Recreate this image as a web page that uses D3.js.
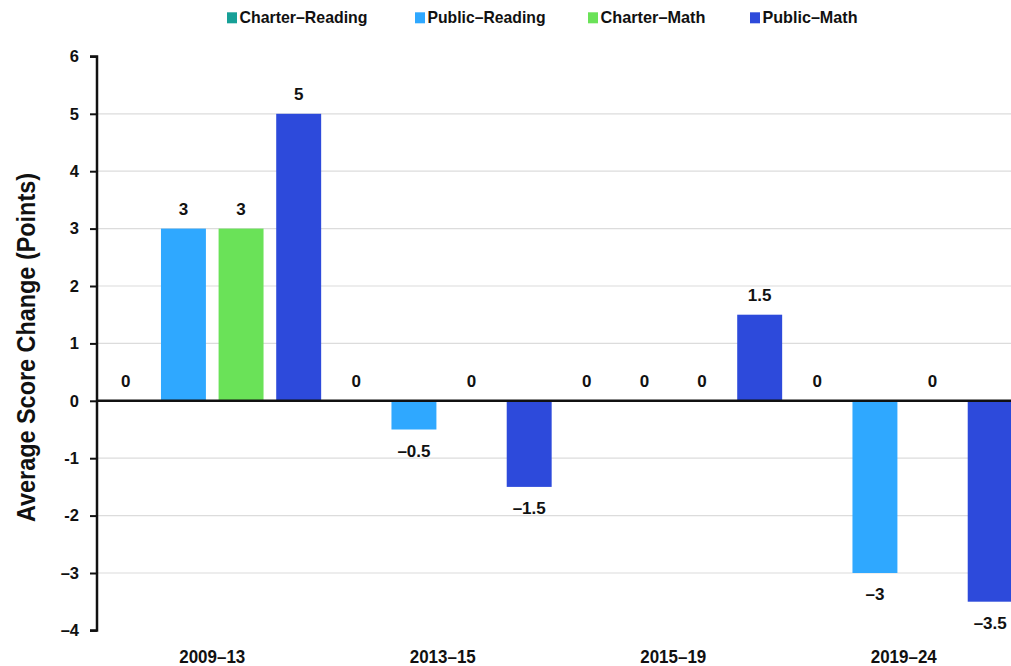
<!DOCTYPE html>
<html><head><meta charset="utf-8">
<script src="https://cdn.jsdelivr.net/npm/d3@7"></script>
<style>
html,body{margin:0;padding:0;background:#fff;}
svg{display:block;font-family:"Liberation Sans",Arial,sans-serif;}
</style></head>
<body>
<svg id="c" width="1011" height="666"></svg>
<script>
const periods = ["2009–13","2013–15","2015–19","2019–24"];
const seriesNames = ["Charter–Reading","Public–Reading","Charter–Math","Public–Math"];
const seriesColors = ["#17a097","#2fa8ff","#6ae258","#2d4adb"];
const charterReading = [0,0,0,0];
const publicReading = [3,-0.5,0,-3];
const charterMath = [3,0,0,0];
const publicMath = [5,-1.5,1.5,-3.5];
const yTicks = [-4,-3,-2,-1,0,1,2,3,4,5,6];
const yTickLabels = ["–4","–3","-2","-1","0","1","2","3","4","5","6"];
const valueLabels = {"0":"0","3":"3","5":"5","1.5":"1.5","-0.5":"–0.5","-1.5":"–1.5","-3":"–3","-3.5":"–3.5"};

const allSeries = [charterReading, publicReading, charterMath, publicMath];
const svg = d3.select("#c");
const W = 1011, H = 666;
const mLeft = 97, mRight = 1019, mTop = 56.4, mBottom = 630.4;

const y = d3.scaleLinear().domain([-4,6]).range([mBottom, mTop]);
const x0 = d3.scaleBand().domain(periods).range([mLeft, mRight]).paddingInner(0).paddingOuter(0);
const x1 = d3.scaleBand().domain(seriesNames).range([0, x0.bandwidth()]).paddingInner(0.22).paddingOuter(0.11);

// gridlines
svg.append("g").selectAll("line").data(yTicks.filter(d=>d!==0 && d!==-4 && d!==6)).join("line")
  .attr("x1", mLeft).attr("x2", W).attr("y1", d=>y(d)).attr("y2", d=>y(d))
  .attr("stroke", "#dcdcdc").attr("stroke-width", 1.2);

// bars
const data = [];
periods.forEach((p,i)=>seriesNames.forEach((s,j)=>data.push({p, s, j, v: allSeries[j][i]})));
svg.append("g").selectAll("rect").data(data.filter(d=>d.v!==0)).join("rect")
  .attr("x", d=>x0(d.p)+x1(d.s))
  .attr("width", x1.bandwidth())
  .attr("y", d=>y(Math.max(0,d.v)))
  .attr("height", d=>Math.abs(y(d.v)-y(0)))
  .attr("fill", d=>seriesColors[d.j]);

// zero line
svg.append("line").attr("x1", mLeft).attr("x2", W).attr("y1", y(0)).attr("y2", y(0))
  .attr("stroke", "#111").attr("stroke-width", 2.5);

// y axis
const yAxis = d3.axisLeft(y).tickValues(yTicks).tickSize(7).tickPadding(11)
  .tickFormat((d,i)=>yTickLabels[i]);
const ga = svg.append("g").attr("transform", `translate(${mLeft},0)`).call(yAxis);
ga.select(".domain").attr("stroke","#111").attr("stroke-width",2.5).attr("d", `M-7,${y(6)}H0V${y(-4)}H-7`);
ga.selectAll(".tick line").attr("stroke","#111").attr("stroke-width",2);
ga.selectAll(".tick text").attr("fill","#111").attr("font-size",16.5).attr("font-weight","bold")
  .attr("font-family","Liberation Sans, Arial, sans-serif");

// value labels
svg.append("g").selectAll("text").data(data).join("text")
  .attr("x", d=>x0(d.p)+x1(d.s)+x1.bandwidth()/2)
  .attr("y", d=> d.v>=0 ? y(d.v)-13.5 : y(d.v)+27)
  .attr("text-anchor","middle").attr("font-size",17).attr("font-weight","bold").attr("fill","#111")
  .text(d=>valueLabels[String(d.v)]);

// x category labels
svg.append("g").selectAll("text").data(periods).join("text")
  .attr("x", d=>x0(d)+x0.bandwidth()/2).attr("y", 663)
  .attr("text-anchor","middle").attr("font-size",18.5).attr("font-weight","bold").attr("fill","#111")
  .attr("textLength",66).attr("lengthAdjust","spacingAndGlyphs")
  .text(d=>d);

// y title
svg.append("text").attr("transform","translate(35,347.5) rotate(-90)")
  .attr("text-anchor","middle").attr("font-size",25).attr("font-weight","bold").attr("fill","#111")
  .attr("textLength",349).attr("lengthAdjust","spacingAndGlyphs")
  .text("Average Score Change (Points)");

// legend
const legX = [227, 415, 588, 750];
const legW = [128, 118, 105, 95];
const lg = svg.append("g").selectAll("g").data(seriesNames).join("g")
  .attr("transform",(d,i)=>`translate(${legX[i]},0)`);
lg.append("rect").attr("x",0).attr("y",12.3).attr("width",10).attr("height",11).attr("fill",(d,i)=>seriesColors[i]);
lg.append("text").attr("x",12.5).attr("y",23.3).attr("font-size",17).attr("font-weight","bold").attr("fill","#111")
  .attr("textLength", (d,i)=>legW[i]).attr("lengthAdjust","spacingAndGlyphs")
  .text(d=>d);
</script>
</body></html>
